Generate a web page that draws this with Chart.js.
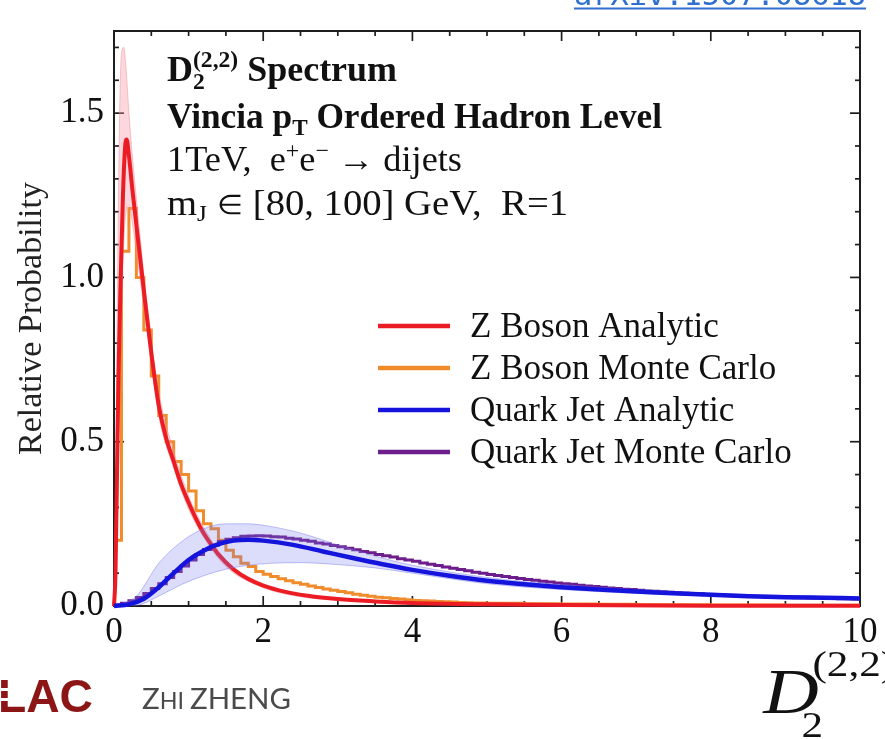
<!DOCTYPE html>
<html><head><meta charset="utf-8">
<script src="https://cdn.jsdelivr.net/npm/chart.js@4.4.1/dist/chart.umd.min.js"></script>
<style>html,body{margin:0;padding:0;background:#fff;overflow:hidden}</style>
</head><body>
<canvas id="c" width="885" height="739" style="width:885px;height:739px;display:block"></canvas>
<script>
// ---------------- data ----------------
const xTickValues = [0, 2, 4, 6, 8, 10];
const yTickValues = [0, 0.5, 1.0, 1.5];
const xMinorStep = 0.5;
const yMinorStep = 0.1;

const seriesLabels = ['Z Boson Analytic', 'Z Boson Monte Carlo', 'Quark Jet Analytic', 'Quark Jet Monte Carlo'];

// Z boson analytic curve
const zAnaX = [0, 0.02, 0.04, 0.06, 0.09, 0.12, 0.15, 0.17, 0.2, 0.25, 0.3, 0.35, 0.4, 0.5, 0.6, 0.7, 0.8, 0.9, 1.0, 1.1, 1.2, 1.3, 1.4, 1.6, 1.8, 2.0, 2.3, 2.6, 3.0, 3.5, 4.0, 5.0, 6.0, 8.0, 10.0];
const zAnaY = [0, 0.1, 0.4, 0.7, 1.0, 1.25, 1.4, 1.42, 1.37, 1.26, 1.16, 1.06, 0.96, 0.77, 0.61, 0.51, 0.44, 0.37, 0.315, 0.265, 0.222, 0.188, 0.157, 0.112, 0.082, 0.062, 0.043, 0.031, 0.021, 0.014, 0.009, 0.005, 0.003, 0.001, 0.0005];
// Z boson analytic uncertainty band
const zBandX  = [0, 0.02, 0.04, 0.06, 0.08, 0.1, 0.13, 0.16, 0.2, 0.25, 0.3, 0.4, 0.5, 0.6, 0.8, 1.0, 1.2, 1.5, 2.0, 2.5, 3.0, 4.0, 5.0, 7.0, 10.0];
const zBandUp = [0, 0.3, 0.8, 1.25, 1.55, 1.68, 1.7, 1.64, 1.5, 1.36, 1.24, 1.01, 0.81, 0.65, 0.47, 0.335, 0.24, 0.14, 0.068, 0.036, 0.024, 0.011, 0.006, 0.003, 0.001];
const zBandLo = [0, 0.02, 0.2, 0.45, 0.7, 0.9, 1.1, 1.2, 1.22, 1.16, 1.08, 0.91, 0.74, 0.58, 0.42, 0.295, 0.21, 0.12, 0.056, 0.028, 0.018, 0.007, 0.004, 0.002, 0];
// Z boson Monte Carlo histogram, bins of 0.1 from 0 to 5
const zMcBinWidth = 0.1;
const zMcY = [0.20, 1.08, 1.21, 1.00, 0.84, 0.70, 0.58, 0.50, 0.44, 0.40,
              0.35, 0.29, 0.25, 0.235, 0.20, 0.17, 0.15, 0.13, 0.12, 0.105,
              0.097, 0.09, 0.083, 0.077, 0.071, 0.066, 0.061, 0.056, 0.052, 0.048,
              0.044, 0.040, 0.036, 0.033, 0.030, 0.027, 0.025, 0.023, 0.021, 0.019,
              0.017, 0.016, 0.015, 0.014, 0.013, 0.012, 0.011, 0.010, 0.009, 0.009];
// tail, bins of 0.5 from 5 to 10
const zMcTailWidth = 0.5;
const zMcTailY = [0.008, 0.007, 0.006, 0.005, 0.004, 0.004, 0.003, 0.003, 0.002, 0.002];

// Quark jet analytic curve
const qAnaX = [0, 0.2, 0.4, 0.6, 0.8, 1.0, 1.2, 1.4, 1.6, 1.8, 2.0, 2.4, 2.8, 3.2, 3.6, 4.0, 4.5, 5.0, 5.5, 6.0, 6.5, 7.0, 7.5, 8.0, 8.5, 9.0, 9.5, 10.0];
const qAnaY = [0, 0.005, 0.022, 0.057, 0.1, 0.14, 0.168, 0.188, 0.199, 0.202, 0.199, 0.186, 0.166, 0.146, 0.127, 0.11, 0.092, 0.077, 0.066, 0.057, 0.05, 0.044, 0.039, 0.034, 0.03, 0.027, 0.025, 0.023];
// Quark jet band
const qBandX  = [0, 0.3, 0.6, 0.9, 1.2, 1.5, 1.8, 2.1, 2.5, 3.0, 3.5, 4.0, 5.0, 6.0, 8.0, 10.0];
const qBandUp = [0, 0.03, 0.13, 0.195, 0.235, 0.25, 0.25, 0.242, 0.222, 0.186, 0.152, 0.124, 0.087, 0.065, 0.039, 0.027];
const qBandLo = [0, 0.002, 0.03, 0.065, 0.092, 0.112, 0.124, 0.13, 0.132, 0.126, 0.116, 0.1, 0.068, 0.05, 0.03, 0.02];
// Quark jet Monte Carlo histogram, bins of 0.1 from 0 to 10
const qMcBinWidth = 0.1;
const qMcY = [0.003, 0.008, 0.016, 0.026, 0.038, 0.053, 0.068, 0.087, 0.105, 0.122,
              0.14, 0.157, 0.172, 0.185, 0.196, 0.203, 0.208, 0.212, 0.213, 0.214,
              0.213, 0.211, 0.21, 0.206, 0.204, 0.2, 0.197, 0.192, 0.189, 0.184,
              0.18, 0.176, 0.171, 0.166, 0.162, 0.157, 0.153, 0.149, 0.144, 0.14,
              0.136, 0.131, 0.127, 0.123, 0.119, 0.115, 0.111, 0.107, 0.103, 0.1,
              0.096, 0.093, 0.09, 0.087, 0.084, 0.081, 0.078, 0.075, 0.073, 0.07,
              0.068, 0.066, 0.063, 0.061, 0.059, 0.057, 0.055, 0.053, 0.051, 0.05,
              0.048, 0.046, 0.045, 0.043, 0.042, 0.04, 0.039, 0.038, 0.037, 0.035,
              0.034, 0.033, 0.032, 0.031, 0.03, 0.03, 0.029, 0.028, 0.027, 0.027,
              0.026, 0.025, 0.025, 0.024, 0.024, 0.023, 0.023, 0.022, 0.022, 0.021];

// ---------------- helpers ----------------
const pts = (xs, ys) => xs.map((x, i) => ({x: x, y: ys[i]}));
function histPts(start, width, ys) {
  const p = ys.map((y, i) => ({x: +(start + i * width).toFixed(4), y: y}));
  p.push({x: +(start + ys.length * width).toFixed(4), y: ys[ys.length - 1]});
  return p;
}
const zMcPts = histPts(0, zMcBinWidth, zMcY).slice(0, -1).concat(histPts(5, zMcTailWidth, zMcTailY));

const COL = {
  red: '#ec1c24', orange: '#f08c2c', blue: '#1414dc', purple: '#6e1e8c',
  pink: 'rgba(246,150,165,0.38)', lav: 'rgba(120,120,240,0.26)'
};
const SERIF = "'Liberation Serif', 'Times New Roman', serif";

// ---------------- plugin for frame, ticks, legend, texts ----------------
function seg(ctx, x1, y1, x2, y2) { ctx.beginPath(); ctx.moveTo(x1, y1); ctx.lineTo(x2, y2); ctx.stroke(); }
function measureParts(ctx, parts) {
  let w = 0;
  parts.forEach(p => {
    if (p.stack) { let m = 0; p.stack.forEach(s => { ctx.font = s.f; m = Math.max(m, ctx.measureText(s.t).width); }); w += m; }
    else { ctx.font = p.f; w += ctx.measureText(p.t).width; }
  });
  return w;
}
// draws a line of mixed text fitted to a target width
function richText(ctx, x, y, targetW, parts) {
  const w = measureParts(ctx, parts);
  ctx.save(); ctx.translate(x, y); ctx.scale(targetW / w, 1);
  let cx = 0;
  parts.forEach(p => {
    if (p.stack) {
      let m = 0;
      p.stack.forEach(s => { ctx.font = s.f; ctx.fillText(s.t, cx, s.dy); m = Math.max(m, ctx.measureText(s.t).width); });
      cx += m;
    } else {
      ctx.font = p.f; ctx.fillText(p.t, cx, p.dy || 0); cx += ctx.measureText(p.t).width;
    }
  });
  ctx.restore();
}

const decorPlugin = {
  id: 'decor',
  beforeDatasetsDraw(chart) {
    const {ctx, chartArea: a, scales: {x, y}} = chart;
    ctx.save();
    ctx.strokeStyle = '#1e1e1e';
    ctx.lineWidth = 2;
    ctx.strokeRect(a.left, a.top, a.right - a.left, a.bottom - a.top);
    ctx.lineWidth = 1.7;
    for (let v = x.min; v <= x.max + 1e-6; v += xMinorStep) {
      const px = x.getPixelForValue(v);
      const major = xTickValues.some(t => Math.abs(t - v) < 1e-6);
      const len = major ? 10 : 5;
      seg(ctx, px, a.bottom, px, a.bottom - len);
      seg(ctx, px, a.top, px, a.top + len);
    }
    for (let v = y.min; v <= y.max + 1e-6; v += yMinorStep) {
      const py = y.getPixelForValue(v);
      const major = yTickValues.some(t => Math.abs(t - v) < 1e-6);
      const len = major ? 10 : 5;
      seg(ctx, a.left, py, a.left + len, py);
      seg(ctx, a.right, py, a.right - len, py);
    }
    ctx.restore();
  },
  afterDraw(chart) {
    const ctx = chart.ctx;
    ctx.save();
    ctx.textBaseline = 'alphabetic';
    // legend from datasets
    const items = chart.data.datasets.filter(d => d.legendRank !== undefined).sort((a, b) => a.legendRank - b.legendRank);
    items.forEach((d, i) => {
      const yy = 326 + i * 42;
      ctx.strokeStyle = d.borderColor; ctx.lineWidth = 4.5; ctx.lineCap = 'butt';
      seg(ctx, 378, yy, 450, yy);
      ctx.fillStyle = '#111'; ctx.font = '35px ' + SERIF;
      ctx.fillText(d.label, 470, yy + 11);
    });
    // annotation
    ctx.fillStyle = '#111';
    const B = 'bold 35px ' + SERIF, Bs = 'bold 23px ' + SERIF, R = '35px ' + SERIF, Rs = '23px ' + SERIF, Rm = '27px ' + SERIF;
    richText(ctx, 167, 81, 230, [{t: 'D', f: B}, {stack: [{t: '(2,2)', f: Bs, dy: -14}, {t: '2', f: Bs, dy: 8}]}, {t: ' Spectrum', f: B}]);
    richText(ctx, 167, 128, 495, [{t: 'Vincia p', f: B}, {t: 'T', f: Bs, dy: 7}, {t: ' Ordered Hadron Level', f: B}]);
    richText(ctx, 167, 171, 295, [{t: '1TeV,  e', f: R}, {t: '+', f: Rs, dy: -13}, {t: 'e', f: R}, {t: '\u2212', f: Rs, dy: -13}, {t: ' \u2192 dijets', f: R}]);
    richText(ctx, 167, 215, 401, [{t: 'm', f: R}, {t: 'J', f: Rs, dy: 6}, {t: ' ', f: R}, {t: '\u2208', f: Rm, dy: -1}, {t: ' [80, 100] GeV,  R=1', f: R}]);

    // arXiv link at top (cut off)
    ctx.fillStyle = '#2f6fcf'; ctx.font = "31px 'DejaVu Sans Mono', monospace";
    const link = 'arXiv:1507.08618';
    const lw = ctx.measureText(link).width;
    ctx.save(); ctx.translate(574, 5); ctx.scale(292 / lw, 1); ctx.fillText(link, 0, 0); ctx.restore();
    ctx.fillRect(574, 7.5, 292, 2);

    // SLAC logo fragment
    ctx.fillStyle = '#8c1515'; ctx.font = "bold 47px 'Liberation Sans', Arial, sans-serif";
    const lac = 'LAC', lacW = ctx.measureText(lac).width;
    ctx.save(); ctx.translate(-2, 712); ctx.scale(95 / lacW, 1); ctx.fillText(lac, 0, 0); ctx.restore();
    ctx.fillStyle = '#fff';
    ctx.fillRect(0, 688, 26, 3); ctx.fillRect(0, 698, 26, 3);

    // author name
    ctx.fillStyle = '#4a4a4a';
    const big = '29px Lato, sans-serif', small = '23px Lato, sans-serif';
    let nameW = 0; const nameParts = [['Z', big], ['HI ', small], ['ZHENG', big]];
    nameParts.forEach(p => { ctx.font = p[1]; nameW += ctx.measureText(p[0]).width; });
    ctx.save(); ctx.translate(142, 709); ctx.scale(149 / nameW, 1);
    let nx = 0; nameParts.forEach(p => { ctx.font = p[1]; ctx.fillText(p[0], nx, 0); nx += ctx.measureText(p[0]).width; });
    ctx.restore();

    // axis label D_2^(2,2)
    ctx.fillStyle = '#111';
    ctx.save(); ctx.scale(1.2, 1);
    ctx.font = 'italic 64px ' + SERIF; ctx.fillText('D', 636, 713);
    ctx.font = '36px ' + SERIF; ctx.fillText('(2,2)', 677, 676); ctx.fillText('2', 668, 737);
    ctx.restore();
    ctx.restore();
  }
};

const commonLine = {pointRadius: 0, pointHoverRadius: 0, fill: false};

new Chart(document.getElementById('c'), {
  type: 'line',
  data: {
    datasets: [
      {label: seriesLabels[1], legendRank: 1, data: zMcPts, borderColor: COL.orange, borderWidth: 3, stepped: true, order: 9, ...commonLine},
      {label: '_zBandUp', data: pts(zBandX, zBandUp), borderColor: 'rgba(240,140,150,0.5)', borderWidth: 1, backgroundColor: COL.pink, fill: '+1', cubicInterpolationMode: 'monotone', order: 8, pointRadius: 0},
      {label: '_zBandLo', data: pts(zBandX, zBandLo), borderColor: 'rgba(240,140,150,0.5)', borderWidth: 1, cubicInterpolationMode: 'monotone', order: 8, ...commonLine},
      {label: seriesLabels[0], legendRank: 0, data: pts(zAnaX, zAnaY), borderColor: COL.red, borderWidth: 4, cubicInterpolationMode: 'monotone', order: 7, ...commonLine},
      {label: seriesLabels[3], legendRank: 3, data: histPts(0, qMcBinWidth, qMcY), borderColor: COL.purple, borderWidth: 3, stepped: true, order: 6, ...commonLine},
      {label: '_qBandUp', data: pts(qBandX, qBandUp), borderColor: 'rgba(120,120,240,0.45)', borderWidth: 1, backgroundColor: COL.lav, fill: '+1', cubicInterpolationMode: 'monotone', order: 5, pointRadius: 0},
      {label: '_qBandLo', data: pts(qBandX, qBandLo), borderColor: 'rgba(120,120,240,0.45)', borderWidth: 1, cubicInterpolationMode: 'monotone', order: 5, ...commonLine},
      {label: seriesLabels[2], legendRank: 2, data: pts(qAnaX, qAnaY), borderColor: COL.blue, borderWidth: 4.5, cubicInterpolationMode: 'monotone', order: 1, ...commonLine}
    ]
  },
  options: {
    responsive: false,
    animation: false,
    devicePixelRatio: 1,
    layout: {padding: {left: 0, right: 25, top: 10, bottom: 0}},
    plugins: {legend: {display: false}, tooltip: {enabled: false}},
    elements: {line: {tension: 0}},
    datasets: {line: {clip: {left: 3, right: 0, top: 0, bottom: 3}}},
    scales: {
      x: {
        type: 'linear', min: 0, max: 10,
        grid: {display: false, drawTicks: false}, border: {display: false},
        afterBuildTicks: s => { s.ticks = xTickValues.map(v => ({value: v})); },
        afterFit: s => { s.height = 133; },
        ticks: {font: {family: SERIF, size: 35}, color: '#111', padding: 6, maxRotation: 0, autoSkip: false, callback: v => String(v)}
      },
      y: {
        type: 'linear', min: 0, max: 1.75,
        grid: {display: false, drawTicks: false}, border: {display: false},
        afterBuildTicks: s => { s.ticks = yTickValues.map(v => ({value: v})); },
        afterFit: s => { s.width = 114; },
        ticks: {font: {family: SERIF, size: 35}, color: '#111', padding: 10, autoSkip: false, callback: v => v.toFixed(1)},
        title: {display: true, text: 'Relative Probability', font: {family: SERIF, size: 34}, color: '#222', padding: {top: 12, bottom: 0}}
      }
    }
  },
  plugins: [decorPlugin]
});
</script>
</body></html>
